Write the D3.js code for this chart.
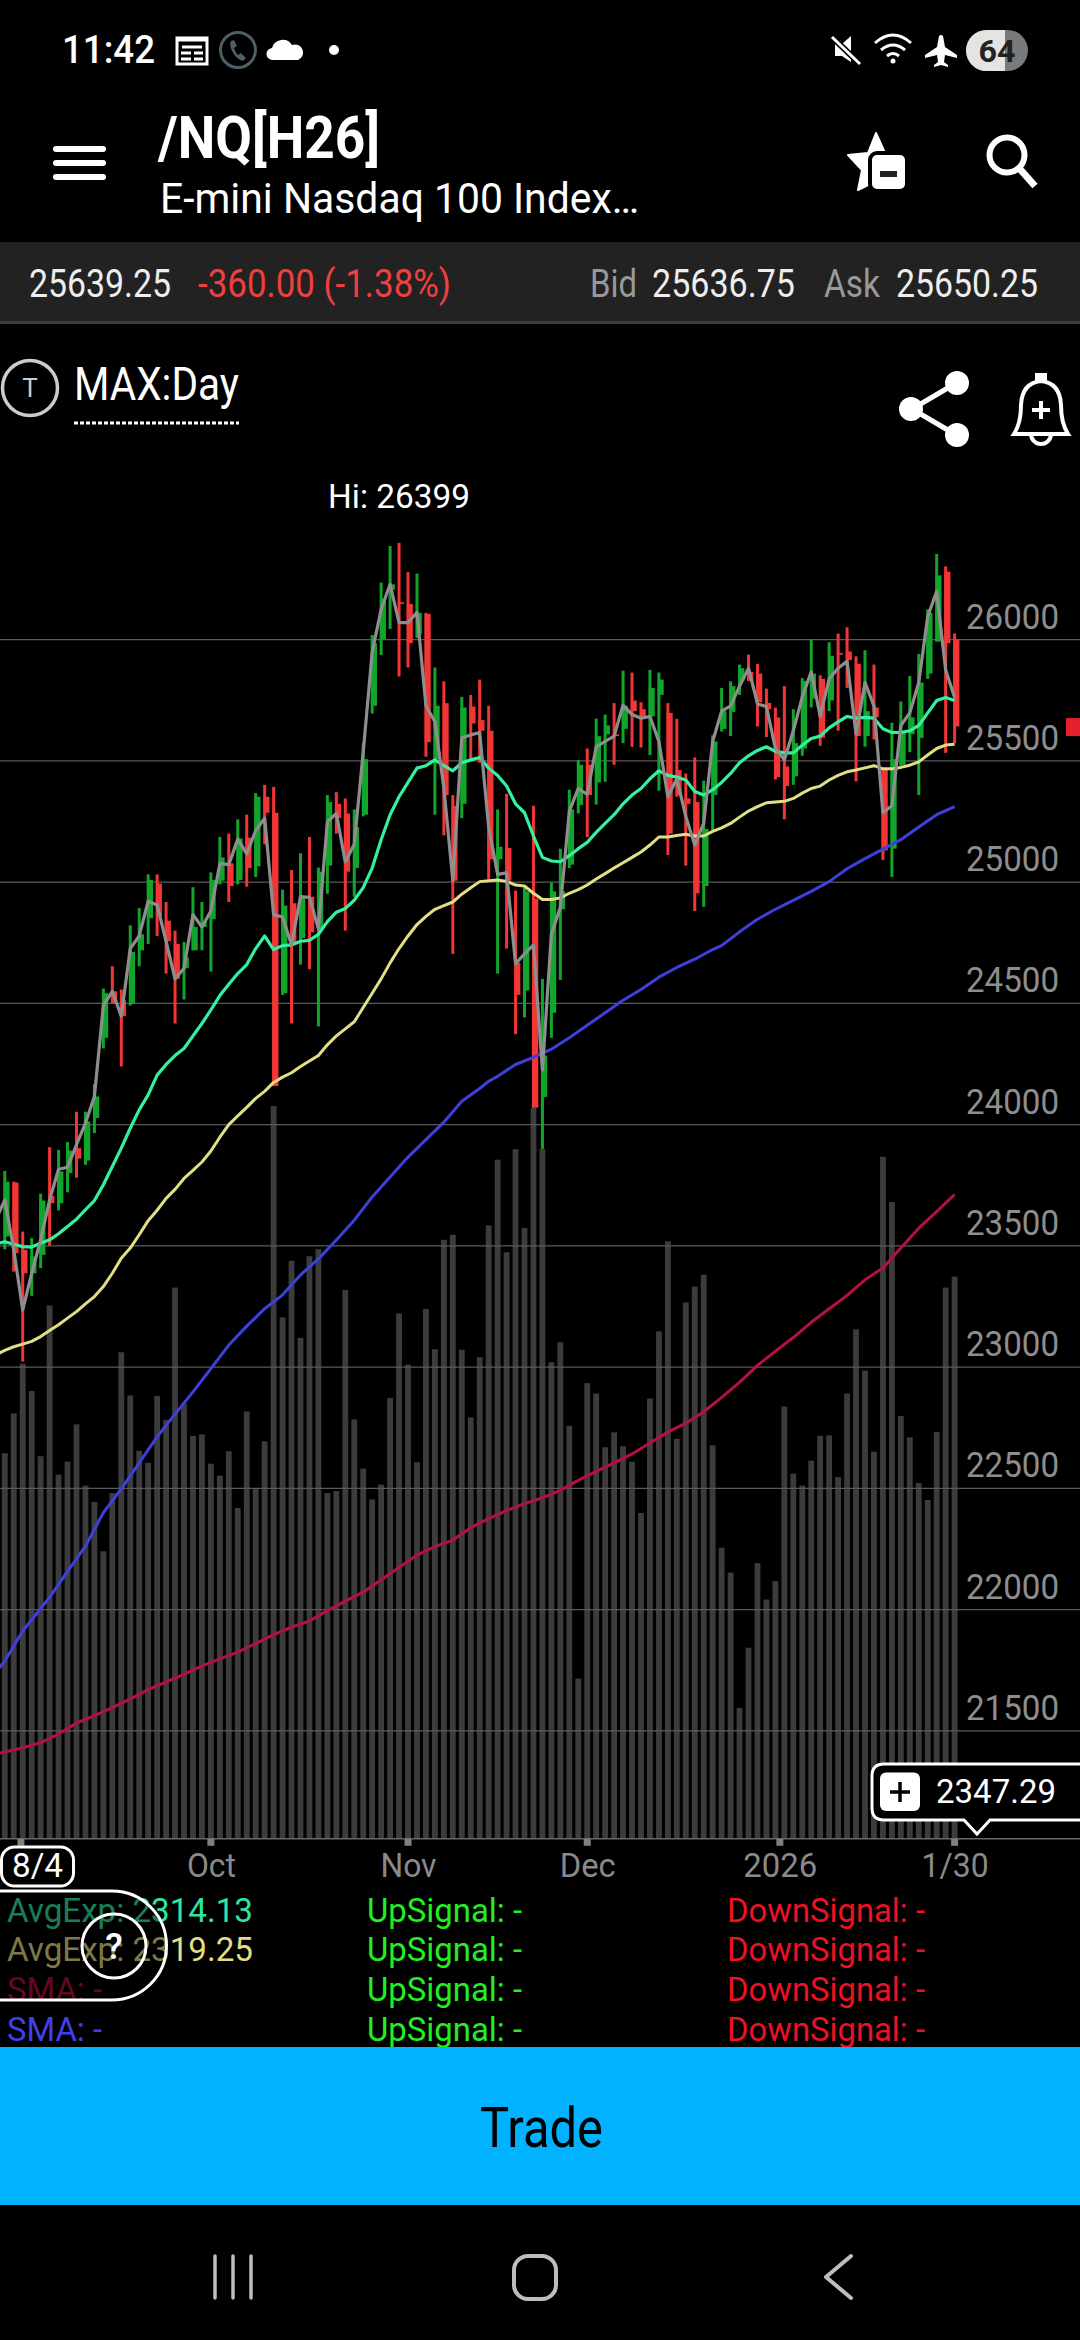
<!DOCTYPE html>
<html><head><meta charset="utf-8">
<script src="https://cdn.jsdelivr.net/npm/d3@7/dist/d3.min.js"></script>
<style>html,body{margin:0;padding:0;background:#000}svg{display:block}text{font-family:Roboto,"Noto Sans",sans-serif}</style>
</head><body><svg id="c" width="1080" height="2340" viewBox="0 0 1080 2340"></svg>
<script>
// ---- price data, one entry per trading day ----
const high=[23809,23765,23559,23532,23715,23907,23896,23928,24053,24053,24167,24561,24653,24557,24822,24893,25032,25032,24918,24800,24753,24979,24918,25040,25186,25200,25259,25278,25367,25401,25393,24969,25050,25119,25186,25060,25359,25371,25345,25300,25573,26019,26235,26386,26399,26278,26272,26110,25885,25828,25359,25764,25772,25835,25727,25300,25364,24965,24977,25315,24601,24999,25138,25381,25504,25551,25674,25691,25738,25872,25864,25742,25875,25864,25738,25673,25448,25514,25418,25605,25801,25828,25897,25938,25900,25798,25720,25808,25713,25841,26000,25853,25989,26025,26051,25931,25956,25897,25470,25657,25745,25850,25941,26125,26353,26302,26025];
const low=[23486,23394,23023,23294,23408,23500,23646,23721,23781,23834,23965,24314,24498,24240,24491,24653,24745,24778,24623,24417,24516,24719,24719,24631,24991,24918,24991,24981,25021,25156,24159,24535,24417,24660,24641,24405,24952,25200,24800,24940,25271,25695,25936,26044,25848,25885,26007,25517,25278,25193,24704,25264,25507,25492,25013,24623,24726,24373,24442,24070,23900,24358,24597,25058,25283,25186,25320,25414,25484,25573,25558,25555,25524,25377,25112,25352,25068,24881,24898,25212,25621,25602,25772,25830,25642,25598,25423,25259,25401,25521,25720,25562,25705,25624,25801,25415,25558,25588,25091,25021,25480,25536,25359,25838,25992,25533,25573];
const open=[23539,23761,23484,23387,23463,23706,23676,23800,23903,23852,24027,24358,24550,24513,24498,24719,24851,24994,24841,24745,24645,24719,24815,24847,25006,25077,25009,25183,25065,25352,25286,24542,24913,24770,24940,24807,25068,25323,25283,25058,25278,25727,26000,26206,26154,26147,26022,26106,25507,25738,25315,25323,25724,25668,25624,25094,25141,24667,24553,24932,24114,24461,24888,25072,25318,25484,25411,25610,25610,25632,25749,25713,25683,25772,25698,25462,25345,25330,24984,25359,25632,25702,25830,25867,25860,25739,25679,25477,25436,25551,25757,25838,25749,25945,25951,25900,25602,25720,25462,25138,25484,25610,25595,25860,25992,26280,26000];
const close=[23765,23470,23387,23456,23687,23676,23807,23893,23860,24013,24116,24542,24498,24447,24712,24785,25009,24859,24756,24601,24689,24815,24837,25009,25102,24984,25180,25058,25352,25286,24159,24903,24741,24940,24793,25043,25330,25264,25043,25227,25507,25985,26169,26228,26147,25985,26110,25577,25727,25359,25006,25720,25654,25624,25094,25146,25006,24535,24962,24070,24285,24962,24962,25300,25484,25359,25602,25646,25602,25727,25705,25683,25801,25835,25200,25359,25323,24954,25219,25580,25705,25808,25882,25830,25742,25713,25433,25396,25573,25830,25860,25595,25933,25938,25916,25602,25705,25680,25131,25507,25624,25679,25823,26110,26265,25985,25642];
const closeTrend=[23607,23690,23484,23236,23387,23525,23690,23816,23824,23917,24006,24116,24491,24550,24447,24726,24778,24921,24906,24756,24601,24645,24866,24815,24881,25077,25072,25178,25116,25212,25264,24866,24856,24741,24940,24937,24807,25249,25283,25083,25156,25536,25948,26125,26228,26070,26070,26113,25727,25661,25389,25006,25595,25607,25617,25227,25032,25038,24663,24704,24741,24226,24785,24896,25293,25386,25362,25558,25580,25602,25730,25691,25676,25683,25580,25352,25426,25271,25153,25242,25580,25705,25727,25808,25882,25735,25724,25551,25504,25624,25764,25867,25683,25838,25882,25911,25610,25823,25727,25286,25315,25646,25698,25823,26095,26199,25875,25761];
const volume=[775,855,955,900,769,1072,732,758,833,710,677,578,695,978,891,780,756,890,842,1108,875,810,813,754,730,779,665,859,705,799,1473,1048,1162,1007,1171,1185,695,699,1103,843,744,682,712,886,1056,953,757,1065,984,1204,1214,983,847,968,1233,1365,1179,1386,1228,1469,1387,958,998,830,322,916,895,787,817,789,758,655,885,1020,1201,804,1078,1110,1134,791,585,535,263,384,554,481,518,869,734,710,760,810,811,727,895,1024,941,778,1371,1280,850,807,715,681,818,1108,1130];
// ---- overlays ----
const avgExpFast=[23508,23517,23507,23497,23495,23511,23525,23550,23580,23610,23649,23687,23752,23827,23903,23985,24061,24123,24204,24248,24285,24314,24366,24417,24473,24532,24579,24623,24660,24726,24778,24722,24738,24741,24756,24760,24785,24837,24876,24891,24925,24977,25058,25175,25278,25352,25411,25470,25480,25504,25480,25459,25492,25504,25514,25470,25440,25396,25323,25286,25190,25102,25087,25084,25109,25138,25164,25205,25242,25278,25323,25359,25386,25426,25459,25440,25433,25421,25374,25359,25381,25411,25448,25492,25521,25543,25558,25539,25533,25533,25565,25592,25602,25636,25661,25683,25676,25679,25676,25632,25617,25617,25624,25646,25698,25749,25761,25749];
const avgExpSlow=[23051,23069,23084,23095,23106,23126,23151,23175,23202,23229,23261,23291,23332,23387,23449,23491,23546,23604,23647,23696,23733,23778,23811,23846,23891,23948,24000,24036,24071,24108,24137,24174,24196,24214,24240,24262,24285,24329,24366,24395,24424,24483,24542,24601,24667,24726,24778,24825,24859,24888,24903,24918,24950,24977,25002,25006,25009,25003,24988,24984,24954,24928,24928,24935,24954,24969,24988,25013,25035,25058,25080,25102,25124,25153,25186,25186,25192,25197,25190,25190,25209,25224,25242,25268,25293,25311,25327,25330,25333,25345,25367,25386,25396,25421,25440,25455,25462,25471,25480,25467,25467,25473,25482,25496,25524,25551,25565,25568];
const smaBlueDays=[-1,0,2,5,7,9,11,13,15,17,19,21,23,25,27,29,31,33,35,37,39,41,43,45,47,49,51,53,54,55,57,59,61,63,65,67,69,71,73,75,77,79,80,82,84,86,88,90,92,94,96,98,100,102,104,106];
const smaBlue=[21743,21788,21912,22051,22158,22262,22400,22498,22605,22713,22806,22898,22994,23091,23169,23241,23298,23380,23446,23524,23606,23702,23784,23866,23938,24010,24096,24149,24179,24199,24248,24277,24311,24358,24410,24461,24513,24557,24608,24648,24682,24722,24738,24795,24847,24888,24925,24962,25002,25055,25097,25136,25175,25227,25278,25311];
const smaRedDays=[-1,0,2,4,6,8,10,12,14,16,18,20,22,24,26,28,30,32,34,36,38,40,42,44,46,48,50,52,54,56,58,60,62,64,66,68,70,72,74,76,78,80,82,84,86,88,90,92,94,96,98,100,102,104,106];
const smaRed=[21405,21413,21430,21452,21487,21532,21563,21596,21631,21670,21702,21733,21768,21797,21825,21860,21897,21928,21953,21996,22035,22072,22123,22174,22225,22260,22287,22338,22375,22408,22437,22461,22492,22533,22570,22605,22642,22687,22732,22769,22816,22875,22937,23007,23066,23122,23185,23241,23296,23360,23409,23491,23573,23641,23712];
// ---- axes ----
const yTicks=[26000,25500,25000,24500,24000,23500,23000,22500,22000,21500];
const xTickDays=[1.8,23,45,65,86.5,106];
const xTickLabels=["8/4","Oct","Nov","Dec","2026","1/30"];
const lastPrice=25639.25;
const hiValue=26399;

const W=1080;
const svg=d3.select("#c");
const x=d3.scaleLinear().domain([0,106]).range([4.8,954.6]);
const y=d3.scaleLinear().domain([21500,26000]).range([1730.9,639.6]);
const yVol=d3.scaleLinear().domain([0,1485]).range([1838.8,1100]);
const days=d3.range(high.length);
const allDays=d3.range(-1,high.length);

const UP="#12a52c",DN="#f23535";
function txt(g,tx,ty,s,o){o=o||{};
  const t=g.append("text").attr("x",tx).attr("y",ty).text(s)
    .attr("font-size",o.size||32).attr("fill",o.fill||"#fff").attr("font-weight",o.weight||400)
    .attr("text-anchor",o.anchor||"start");
  if(o.len)t.attr("textLength",o.len).attr("lengthAdjust","spacingAndGlyphs");
  return t;}

// ---- chart ----
const chart=svg.append("g");
chart.append("g").selectAll("rect").data(days).join("rect")
  .attr("x",d=>x(d)-2.9).attr("width",5.8)
  .attr("y",d=>yVol(volume[d])).attr("height",d=>yVol(0)-yVol(volume[d])).attr("fill","#3c3c3c");

const yAxis=d3.axisRight(y).tickValues(yTicks).tickSize(0).tickPadding(0).tickFormat(d3.format("d"));
const yG=chart.append("g").attr("transform","translate(966,0)").call(yAxis);
yG.select(".domain").remove();
yG.selectAll("text").attr("x",0).attr("dy",-11.4).attr("font-size",35).attr("fill","#8e8e8e").attr("font-family","Roboto")
  .attr("textLength",93).attr("lengthAdjust","spacingAndGlyphs");
chart.append("g").selectAll("line").data(yTicks).join("line")
  .attr("x1",0).attr("x2",W).attr("y1",d=>y(d)).attr("y2",d=>y(d)).attr("stroke","#5a5a5a").attr("stroke-width",1.2);
chart.append("line").attr("x1",0).attr("x2",W).attr("y1",yVol(0)).attr("y2",yVol(0)).attr("stroke","#666").attr("stroke-width",1.5);

// candles
const cG=chart.append("g");
cG.selectAll("rect.w").data(days).join("rect").attr("class","w")
  .attr("x",d=>x(d)-1.5).attr("width",3)
  .attr("y",d=>y(high[d])).attr("height",d=>y(low[d])-y(high[d]))
  .attr("fill",d=>close[d]>=open[d]?UP:DN);
cG.selectAll("rect.b").data(days).join("rect").attr("class","b")
  .attr("x",d=>x(d)-1.2).attr("width",6)
  .attr("y",d=>y(Math.max(open[d],close[d])))
  .attr("height",d=>Math.max(1.5,Math.abs(y(open[d])-y(close[d]))))
  .attr("fill",d=>close[d]>=open[d]?UP:DN);

const lineOf=(xs,vs)=>d3.line().x((d,i)=>x(xs[i])).y(d=>y(d))(vs);
const ln=(xs,vs,c,w)=>chart.append("path").attr("d",lineOf(xs,vs)).attr("fill","none").attr("stroke",c).attr("stroke-width",w).attr("stroke-linejoin","round");
ln(smaRedDays,smaRed,"#b3123f",3);
ln(smaBlueDays,smaBlue,"#3f3fdc",3);
ln(allDays,avgExpSlow,"#e2de86",3);
ln(allDays,avgExpFast,"#35f0a0",3.2);
ln(allDays,closeTrend,"#8e8e8e",3.2);

// last price marker and high label
chart.append("rect").attr("x",1066).attr("y",y(lastPrice)-9).attr("width",14).attr("height",18).attr("fill","#e3202c");
txt(chart,328,y(hiValue)-34.5,"Hi: "+hiValue,{size:33,len:142});

// x axis
const xAxis=d3.axisBottom(x).tickValues(xTickDays).tickSize(0).tickPadding(0).tickFormat((d,i)=>xTickLabels[i]);
const xG=chart.append("g").attr("transform","translate(0,"+yVol(0)+")").call(xAxis);
xG.select(".domain").remove();
xG.selectAll("text").attr("y",38).attr("dy",0).attr("font-size",34).attr("font-family","Roboto").attr("fill","#8a8a8a")
  .attr("text-anchor","middle").attr("font-weight",400)
  .each(function(d,i){const L=[52,49,56,56,74,67][i];d3.select(this).attr("textLength",L).attr("lengthAdjust","spacingAndGlyphs");});
chart.append("g").selectAll("rect").data(xTickDays).join("rect")
  .attr("x",d=>x(d)-3.5).attr("y",yVol(0)).attr("width",7).attr("height",7).attr("fill","#808080");
// 8/4 box
xG.selectAll("text").filter((d,i)=>i===0).remove();
svg.append("rect").attr("x",1.5).attr("y",1847).attr("width",72).attr("height",39).attr("rx",13).attr("fill","#000").attr("stroke","#fff").attr("stroke-width",3);
txt(svg,12,1877,xTickLabels[0],{size:34,len:51});

// price callout
const co=svg.append("g");
co.append("path").attr("d","M884,1764 H1090 V1820 H990 L977,1834 L964,1820 H884 Q872,1820 872,1808 V1776 Q872,1764 884,1764 Z")
  .attr("fill","#000").attr("stroke","#fff").attr("stroke-width",3);
co.append("rect").attr("x",880).attr("y",1772.5).attr("width",40).attr("height",38.5).attr("rx",6).attr("fill","#fff");
co.append("path").attr("d","M890,1792 H910 M900,1782 V1802").attr("stroke","#000").attr("stroke-width",3.5);
txt(co,936,1803,"2347.29",{size:34,len:120});

// ---- legend ----
const leg=svg.append("g");
const rows=[1922,1961,2001,2041];
[["AvgExp: 2314.13","#2fe6a0",246],["AvgExp: 2319.25","#e2de86",246],["SMA: -","#b3123f",95],["SMA: -","#4040ea",95]]
 .forEach((r,i)=>txt(leg,7,rows[i],r[0],{size:33,fill:r[1],len:r[2]}));
rows.forEach(ry=>{txt(leg,367,ry,"UpSignal: -",{size:33,fill:"#22ee22",len:155});
  txt(leg,727,ry,"DownSignal: -",{size:33,fill:"#ee1122",len:198});});
leg.append("path").attr("d","M-10,1891 H112 A54.5,54.5 0 0 1 112,2000 H-10 Z").attr("fill","#000").attr("fill-opacity",.45).attr("stroke","#fff").attr("stroke-width",3);
leg.append("circle").attr("cx",114).attr("cy",1946).attr("r",32).attr("fill","none").attr("stroke","#fff").attr("stroke-width",3);
txt(leg,114,1959,"?",{size:36,anchor:"middle",weight:500});

// ---- trade button & nav ----
svg.append("rect").attr("x",0).attr("y",2047).attr("width",W).attr("height",158).attr("fill","#00b2ff");
txt(svg,480,2147,"Trade",{size:55,fill:"#000",len:123});
svg.append("path").attr("d","M215,2256V2298M233,2256V2298M251,2256V2298").attr("stroke","#bdbdbd").attr("stroke-width",3.5).attr("stroke-linecap","round");
svg.append("rect").attr("x",514).attr("y",2256).attr("width",42).attr("height",43).attr("rx",14).attr("fill","none").attr("stroke","#bdbdbd").attr("stroke-width",4);
svg.append("path").attr("d","M851,2256L826,2277L851,2298").attr("fill","none").attr("stroke","#bdbdbd").attr("stroke-width",4).attr("stroke-linecap","round").attr("stroke-linejoin","round");

// ---- header ----
const h=svg.append("g");
txt(h,62,63,"11:42",{size:38,weight:500,len:93});
// calendar
h.append("rect").attr("x",177).attr("y",38).attr("width",30).attr("height",26).attr("fill","none").attr("stroke","#fff").attr("stroke-width",3);
h.append("path").attr("d","M176,40H208M182,47H202M181,53H191M181,59H191M194,53H203M194,59H203").attr("stroke","#fff").attr("stroke-width",3);
// phone
h.append("circle").attr("cx",238).attr("cy",50).attr("r",17.5).attr("fill","none").attr("stroke","#4d5f66").attr("stroke-width",3);
h.append("path").attr("d","M231,41q-2,3 1,10q4,8 11,10l3,-3l-5,-5l-3,2q-3,-3 -4,-7l3,-2l-3,-6z").attr("fill","#4d5f66");
// cloud
h.append("path").attr("d","M273,60a6,6 0 0 1 -1,-12a11,11 0 0 1 20,-3a8,8 0 0 1 6,15z").attr("fill","#fff");
h.append("circle").attr("cx",334).attr("cy",50).attr("r",5).attr("fill","#fff");
// mute
h.append("path").attr("d","M835,44h7l9,-8v26l-9,-6h-7z").attr("fill","#fff");
h.append("path").attr("d","M832,37L860,64").attr("stroke","#000").attr("stroke-width",6);
h.append("path").attr("d","M832,37L860,64").attr("stroke","#fff").attr("stroke-width",3);
// wifi
h.append("path").attr("d","M875,43q18,-16 36,0M881,50q12,-10 24,0M887,56q6,-5 12,0").attr("fill","none").attr("stroke","#fff").attr("stroke-width",3);
h.append("circle").attr("cx",893).attr("cy",61).attr("r",2.5).attr("fill","#fff");
// plane
h.append("path").attr("d","M939,36q2,-2 4,0l2,11l12,8v3l-12,-3l-1,7l4,3v2l-7,-2l-7,2v-2l4,-3l-1,-7l-12,3v-3l12,-8z").attr("fill","#fff");
// battery
h.append("rect").attr("x",966).attr("y",30).attr("width",62).attr("height",41).attr("rx",20.5).attr("fill","#7a7a7a");
h.append("path").attr("d","M1005,30H986.5A20.5,20.5 0 0 0 986.5,71H1005Z").attr("fill","#e4e4e4");
txt(h,997,62,"64",{size:32,fill:"#222",weight:700,anchor:"middle",len:37});
// menu
h.append("path").attr("d","M56,149H103M56,163H103M56,177H103").attr("stroke","#fff").attr("stroke-width",6).attr("stroke-linecap","round");
txt(h,158,158,"/NQ[H26]",{size:60,weight:700,len:222});
txt(h,160,213,"E-mini Nasdaq 100 Index…",{size:43,len:479});
// favourite star
h.append("path").attr("d","M876,133L885,153L906,156L892,172L895,190L876,181L858,190L862,170L848,155L868,153Z").attr("fill","#fff").attr("stroke","#fff").attr("stroke-width",2).attr("stroke-linejoin","round");
h.append("rect").attr("x",870).attr("y",153).attr("width",37).attr("height",38).attr("rx",7).attr("fill","#fff").attr("stroke","#000").attr("stroke-width",4);
h.append("path").attr("d","M880,174H897").attr("stroke","#222").attr("stroke-width",6);
// search
h.append("circle").attr("cx",1007).attr("cy",155).attr("r",17.5).attr("fill","none").attr("stroke","#fff").attr("stroke-width",6);
h.append("path").attr("d","M1019,168L1035,186").attr("stroke","#fff").attr("stroke-width",7);
// quote strip
h.append("rect").attr("x",0).attr("y",242).attr("width",W).attr("height",80).attr("fill","#222");
h.append("rect").attr("x",0).attr("y",321).attr("width",W).attr("height",3).attr("fill","#3d3d3d");
txt(h,29,297,"25639.25",{size:39,fill:"#eee",len:142});
txt(h,198,297,"-360.00 (-1.38%)",{size:39,fill:"#ef4040",len:253});
txt(h,590,297,"Bid",{size:39,fill:"#999",len:47});
txt(h,652,297,"25636.75",{size:39,fill:"#eee",len:143});
txt(h,824,297,"Ask",{size:39,fill:"#999",len:56});
txt(h,896,297,"25650.25",{size:39,fill:"#eee",len:142});
// MAX:Day row
h.append("circle").attr("cx",30).attr("cy",388).attr("r",27.5).attr("fill","none").attr("stroke","#ccc").attr("stroke-width",3.5);
txt(h,30,397,"T",{size:26,fill:"#ccc",anchor:"middle"});
txt(h,74,400,"MAX:Day",{size:46,len:165});
h.append("line").attr("x1",74).attr("x2",239).attr("y1",423).attr("y2",423).attr("stroke","#fff").attr("stroke-width",3).attr("stroke-dasharray","4 2");
// share
h.append("path").attr("d","M958,382L912,409L958,436").attr("fill","none").attr("stroke","#fff").attr("stroke-width",5);
[[957,383],[911,409],[957,435]].forEach(p=>h.append("circle").attr("cx",p[0]).attr("cy",p[1]).attr("r",12).attr("fill","#fff"));
// bell
h.append("path").attr("d","M1041,381q-19,2 -20,24q0,18 -7,29h54q-7,-11 -7,-29q-1,-22 -20,-24z").attr("fill","none").attr("stroke","#fff").attr("stroke-width",4);
h.append("rect").attr("x",1035).attr("y",373).attr("width",12).attr("height",8).attr("fill","#fff");
h.append("path").attr("d","M1031,434a10,10 0 0 0 20,0").attr("fill","none").attr("stroke","#fff").attr("stroke-width",4);
h.append("path").attr("d","M1032,410H1050M1041,401V419").attr("stroke","#fff").attr("stroke-width",4);
</script></body></html>
